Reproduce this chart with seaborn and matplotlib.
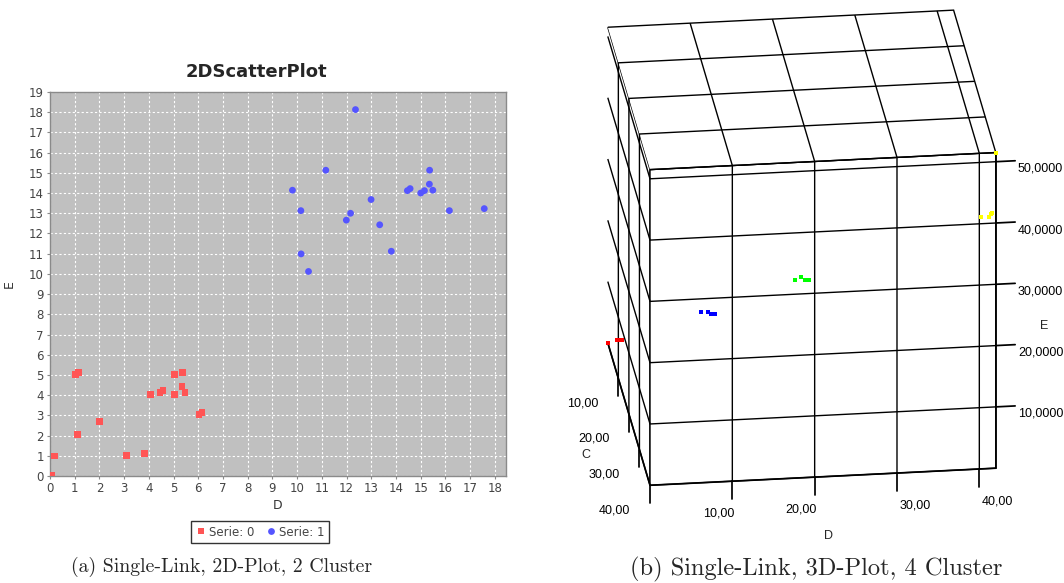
import matplotlib
matplotlib.use("Agg")
import matplotlib.pyplot as plt
from matplotlib.ticker import FuncFormatter, MultipleLocator
import numpy as np
import pandas as pd
import seaborn as sns

# left panel: 2D scatter, two clusters
serie0_d = [0.05, 0.18, 1.03, 1.16, 1.10, 2.00, 3.09, 3.81, 4.07, 4.45, 4.57,
            5.04, 5.36, 5.05, 5.34, 5.46, 6.03, 6.15]
serie0_e = [0.05, 0.99, 5.02, 5.13, 2.07, 2.68, 1.01, 1.13, 4.02, 4.14, 4.22,
            5.02, 5.13, 4.02, 4.44, 4.12, 3.03, 3.13]
serie1_d = [9.81, 10.15, 11.16, 12.36, 10.16, 10.46, 11.99, 12.16, 12.99, 13.34,
            13.81, 14.46, 14.57, 15.00, 15.15, 15.36, 15.35, 15.49, 16.16, 17.57]
serie1_e = [14.14, 13.13, 15.13, 18.13, 10.99, 10.12, 12.66, 13.00, 13.68, 12.43,
            11.12, 14.12, 14.22, 14.00, 14.12, 15.13, 14.44, 14.14, 13.13, 13.23]

# right panel: 3D scatter, four clusters
cl_d = [0.0, 1.0, 1.3, 1.6, 10.0, 10.8, 11.2, 11.6, 20.2, 20.8, 21.3, 21.7,
        40.2, 41.2, 41.4, 41.6, 42.0]
cl_c = [0.0, 1.0, 1.2, 1.4, 10.0, 10.3, 10.6, 10.8, 20.0, 20.5, 20.8, 21.0,
        40.0, 40.0, 40.0, 40.0, 40.0]
cl_e = [0.0, 1.0, 1.1, 1.2, 10.2, 10.3, 10.2, 10.2, 20.5, 21.3, 21.0, 21.0,
        41.1, 41.0, 41.5, 41.6, 51.5]
cl_id = [0] * 4 + [1] * 4 + [2] * 4 + [3] * 5
cl_colors = ['#FF0000', '#0000FF', '#00FF00', '#FFFF00']

sns.set_theme(style="white")
plt.rcParams['font.family'] = ['DejaVu Sans']

W, H = 1064, 583
fig = plt.figure(figsize=(W / 100, H / 100), dpi=100)

# ---- 2D plot ----
ax = fig.add_axes([50 / W, 1 - 476 / H, 456 / W, 384 / H])
df2 = pd.DataFrame({
    'D': serie0_d + serie1_d,
    'E': serie0_e + serie1_e,
    'serie': ['Serie: 0'] * len(serie0_d) + ['Serie: 1'] * len(serie1_d),
})
sns.scatterplot(data=df2, x='D', y='E', hue='serie', style='serie',
                palette={'Serie: 0': '#FF5555', 'Serie: 1': '#5555FF'},
                markers={'Serie: 0': 's', 'Serie: 1': 'o'},
                s=24, linewidth=0, ax=ax, zorder=3)
ax.set_facecolor('#C0C0C0')
ax.set_xlim(0, 18.45)
ax.set_ylim(0, 19)
ax.xaxis.set_major_locator(MultipleLocator(1))
ax.yaxis.set_major_locator(MultipleLocator(1))
ax.grid(True, color='white', linestyle=(0, (2, 2)), linewidth=0.8)
ax.set_axisbelow(True)
for sp in ax.spines.values():
    sp.set_color('#8a8a8a')
    sp.set_linewidth(1.0)
ax.tick_params(axis='both', length=2.5, width=0.8, color='#8a8a8a',
               labelcolor='#444444', labelsize=8.5, pad=2, direction='out',
               bottom=True, left=True)
ax.set_xlabel('D', fontsize=9, color='#333333')
ax.set_ylabel('E', fontsize=9, color='#333333')
ax.xaxis.set_label_coords(0.5, -0.06)
ax.yaxis.set_label_coords(-0.075, 0.5)

handles, labels = ax.get_legend_handles_labels()
ax.get_legend().remove()
leg = fig.legend(handles, labels, loc='center', bbox_to_anchor=(260 / W, 1 - 532 / H),
                 ncol=2, frameon=True, fancybox=False, edgecolor='black',
                 fontsize=8.5, handletextpad=0.2, columnspacing=0.9,
                 borderpad=0.35, handlelength=1.0)
leg.get_frame().set_linewidth(1.0)
for t in leg.get_texts():
    t.set_color('#444444')

fig.text(256 / W, 1 - 72 / H, '2DScatterPlot', ha='center', va='center',
         fontsize=13, fontweight='bold')

# ---- 3D plot ----
side = 540
cx, cy = 794.5, 255
ax3 = fig.add_axes([(cx - side / 2) / W, 1 - (cy + side / 2) / H, side / W, side / H],
                   projection='3d', proj_type='ortho')
ax3.set_box_aspect((347.5, 350.4, 345), zoom=1.085)
ax3.view_init(elev=-24.1, azim=-83.1, roll=0)

for k in range(4):
    idx = [i for i, c in enumerate(cl_id) if c == k]
    ax3.scatter([cl_d[i] for i in idx], [cl_c[i] for i in idx], [cl_e[i] for i in idx],
                marker='s', s=7, color=cl_colors[k], depthshade=False, linewidths=0)

ax3.set_xlim(0, 42)
ax3.set_ylim(0, 40)
ax3.set_zlim(0, 51.5)
ax3.set_xticks([10, 20, 30, 40])
ax3.set_yticks([10, 20, 30, 40])
ax3.set_zticks([10, 20, 30, 40, 50])
ax3.xaxis.set_major_formatter(FuncFormatter(lambda v, p: f"{v:.2f}".replace('.', ',')))
ax3.yaxis.set_major_formatter(FuncFormatter(lambda v, p: f"{v:.2f}".replace('.', ',')))
ax3.zaxis.set_major_formatter(FuncFormatter(lambda v, p: f"{v:.4f}".replace('.', ',')))

for axis in (ax3.xaxis, ax3.yaxis, ax3.zaxis):
    axis.set_pane_color((1, 1, 1, 1))
    axis.pane.set_edgecolor('black')
    axis.pane.set_linewidth(1.0)
    axis.line.set_color('black')
    axis._axinfo['grid'].update(color='black', linewidth=1.0, linestyle='-')
    axis._axinfo['tick'].update(inward_factor=0.7, outward_factor=0.0)
    axis.set_tick_params(colors='black', labelsize=9)

ax3.xaxis.set_ticks_position('lower')
ax3.xaxis.set_label_position('lower')
ax3.yaxis.set_ticks_position('lower')
ax3.yaxis.set_label_position('lower')

# align tick labels to the end of the tick lines
d_ha = ['right', 'right', 'left', 'left']
for t, ha in zip(ax3.xaxis.get_major_ticks(), d_ha):
    t.label1.set_ha(ha)
    t.label1.set_va('top')
for t in ax3.yaxis.get_major_ticks():
    t.label1.set_ha('right')
    t.label1.set_va('top')
for t in ax3.zaxis.get_major_ticks():
    t.label1.set_ha('left')
    t.label1.set_va('center')
for axis in (ax3.xaxis, ax3.yaxis, ax3.zaxis):
    for t in axis.get_major_ticks():
        t.label1.set_fontfamily('Liberation Sans')

ax3.set_xlabel('D', fontsize=9, fontfamily='Liberation Sans', labelpad=5)
ax3.set_ylabel('C', fontsize=9, fontfamily='Liberation Sans')
ax3.set_zlabel('E', fontsize=9, fontfamily='Liberation Sans')
ax3.grid(True)

# captions
fig.text(222 / W, 1 - 567 / H, '(a) Single-Link, 2D-Plot, 2 Cluster',
         ha='center', va='center', fontsize=14.3, family='cmr10')
fig.text(816 / W, 1 - 569 / H, '(b) Single-Link, 3D-Plot, 4 Cluster',
         ha='center', va='center', fontsize=17.6, family='cmr10')

fig.savefig('out.png', dpi=100)
